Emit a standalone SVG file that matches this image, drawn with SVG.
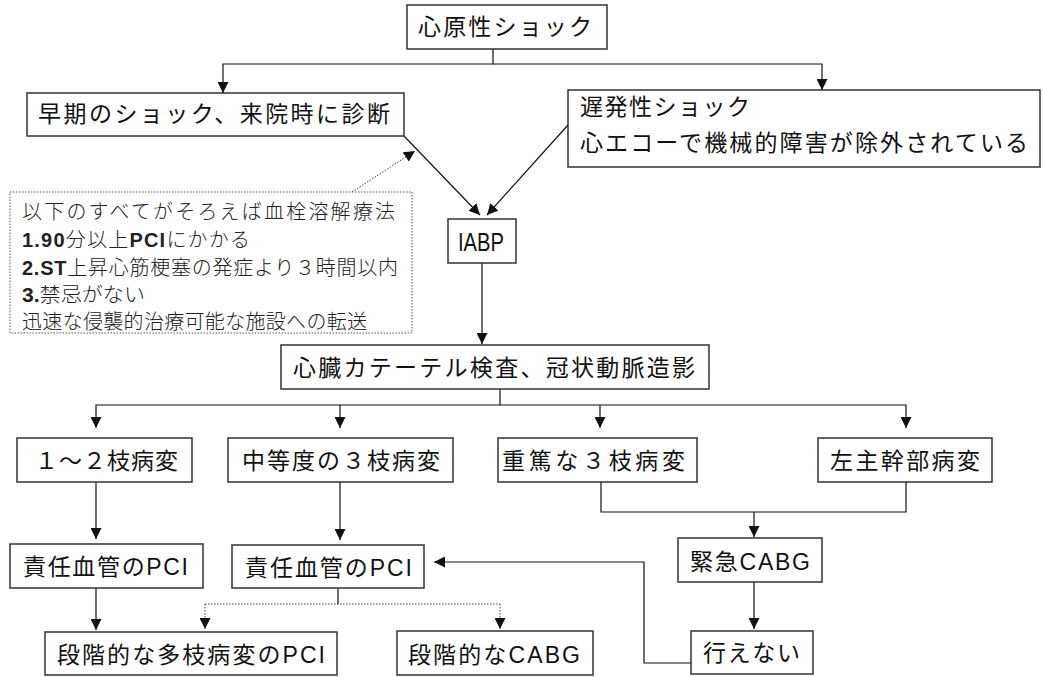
<svg xmlns="http://www.w3.org/2000/svg" width="1043" height="677" viewBox="0 0 1043 677">
<style>
.box{fill:#fff;stroke:#333;stroke-width:1.5}
.dbox{fill:#fff;stroke:#555;stroke-width:1;stroke-dasharray:1.5 1.5}
.t{font-family:"Liberation Sans","Noto Sans CJK JP",sans-serif;font-size:23px;fill:#111;dominant-baseline:central}
.s{font-family:"Liberation Sans","Noto Sans CJK JP",sans-serif;font-size:20px;fill:#222;dominant-baseline:central;font-weight:300}
.b{font-weight:bold}
.c{fill:none;stroke:#111;stroke-width:1.2}
.d{fill:none;stroke:#444;stroke-width:1;stroke-dasharray:1.5 1.5}
</style>
<defs>
<marker id="ar" viewBox="0 0 10 10" markerWidth="11" markerHeight="11" markerUnits="userSpaceOnUse" refX="10" refY="5" orient="auto"><path d="M0,0 L10,5 L0,10 z" fill="#111"/></marker>
</defs>
<rect width="1043" height="677" fill="#fff"/>
<g id="connectors">
<path class="c" d="M493,49 V64 H223 V93" marker-end="url(#ar)"/>
<path class="c" d="M493,64 H822 V90" marker-end="url(#ar)"/>
<path class="c" d="M404,136 L480,215" marker-end="url(#ar)"/>
<path class="c" d="M568,125 L487,215" marker-end="url(#ar)"/>
<path class="d" d="M352,192 L415,151" marker-end="url(#ar)"/>
<path class="c" d="M482,263 V344" marker-end="url(#ar)"/>
<path class="c" d="M500,389 V405 H96 V428" marker-end="url(#ar)"/>
<path class="c" d="M500,405 H906 V428" marker-end="url(#ar)"/>
<path class="c" d="M340,405 V428" marker-end="url(#ar)"/>
<path class="c" d="M600,405 V428" marker-end="url(#ar)"/>
<path class="c" d="M96,482 V539" marker-end="url(#ar)"/>
<path class="c" d="M340,482 V540" marker-end="url(#ar)"/>
<path class="c" d="M601,482 V512 H906 V482"/>
<path class="c" d="M754,512 V537" marker-end="url(#ar)"/>
<path class="c" d="M754,582 V629" marker-end="url(#ar)"/>
<path class="c" d="M691,663 H644 V562 H434" marker-end="url(#ar)"/>
<path class="c" d="M96,588 V630" marker-end="url(#ar)"/>
<path class="c" d="M338,588 V604"/>
<path class="d" d="M205,604 H500"/>
<path class="d" d="M205,604 V629" marker-end="url(#ar)"/>
<path class="d" d="M500,604 V629" marker-end="url(#ar)"/>
</g>
<g id="n_shock">
<rect class="box" x="407" y="5" width="200" height="44"/>
<text class="t" x="418" y="27" textLength="174" lengthAdjust="spacing">心原性ショック</text>
</g>
<g id="n_early">
<rect class="box" x="27" y="93" width="377" height="43"/>
<text class="t" x="38" y="114" textLength="352" lengthAdjust="spacing">早期のショック、来院時に診断</text>
</g>
<g id="n_late">
<rect class="box" x="568" y="90" width="472" height="77"/>
<text class="t" x="580" y="107" textLength="170" lengthAdjust="spacing">遅発性ショック</text>
<text class="t" x="580" y="143" textLength="448" lengthAdjust="spacing">心エコーで機械的障害が除外されている</text>
</g>
<g id="n_note">
<rect class="dbox" x="10" y="192" width="402" height="141"/>
<text class="s" x="22" y="212" textLength="373" lengthAdjust="spacing">以下のすべてがそろえば血栓溶解療法</text>
<text class="s" x="22" y="240" textLength="228" lengthAdjust="spacing"><tspan class="b">1.90</tspan>分以上<tspan class="b">PCI</tspan>にかかる</text>
<text class="s" x="22" y="268" textLength="376" lengthAdjust="spacing"><tspan class="b">2.ST</tspan>上昇心筋梗塞の発症より３時間以内</text>
<text class="s" x="22" y="295" textLength="123" lengthAdjust="spacingAndGlyphs"><tspan class="b">3.</tspan>禁忌がない</text>
<text class="s" x="22" y="322" textLength="345" lengthAdjust="spacing">迅速な侵襲的治療可能な施設への転送</text>
</g>
<g id="n_iabp">
<rect class="box" x="448" y="219" width="68" height="44"/>
<text class="t" x="458" y="242" style="font-size:26px" textLength="46" lengthAdjust="spacingAndGlyphs">IABP</text>
</g>
<g id="n_cath">
<rect class="box" x="281" y="345" width="428" height="44"/>
<text class="t" x="293" y="368" textLength="402" lengthAdjust="spacing">心臓カテーテル検査、冠状動脈造影</text>
</g>
<g id="n_v12">
<rect class="box" x="17" y="438" width="175" height="44"/>
<text class="t" x="35" y="461" textLength="143" lengthAdjust="spacing">１～２枝病変</text>
</g>
<g id="n_mod3">
<rect class="box" x="228" y="438" width="225" height="44"/>
<text class="t" x="242" y="461" textLength="198" lengthAdjust="spacing">中等度の３枝病変</text>
</g>
<g id="n_sev3">
<rect class="box" x="498" y="438" width="199" height="44"/>
<text class="t" x="502" y="461" textLength="183" lengthAdjust="spacing">重篤な３枝病変</text>
</g>
<g id="n_lmt">
<rect class="box" x="818" y="438" width="174" height="44"/>
<text class="t" x="830" y="461" textLength="150" lengthAdjust="spacing">左主幹部病変</text>
</g>
<g id="n_pci1">
<rect class="box" x="10" y="544" width="193" height="44"/>
<text class="t" x="23" y="567" textLength="165" lengthAdjust="spacing">責任血管のPCI</text>
</g>
<g id="n_pci2">
<rect class="box" x="232" y="545" width="192" height="43"/>
<text class="t" x="245" y="568" textLength="167" lengthAdjust="spacing">責任血管のPCI</text>
</g>
<g id="n_cabg">
<rect class="box" x="678" y="538" width="144" height="44"/>
<text class="t" x="690" y="562" textLength="120" lengthAdjust="spacing">緊急CABG</text>
</g>
<g id="n_cannot">
<rect class="box" x="691" y="631" width="122" height="43"/>
<text class="t" x="703" y="653" textLength="97" lengthAdjust="spacing">行えない</text>
</g>
<g id="n_stagepci">
<rect class="box" x="45" y="632" width="292" height="43"/>
<text class="t" x="57" y="655" textLength="268" lengthAdjust="spacing">段階的な多枝病変のPCI</text>
</g>
<g id="n_stagecabg">
<rect class="box" x="397" y="631" width="196" height="44"/>
<text class="t" x="408" y="655" textLength="172" lengthAdjust="spacing">段階的なCABG</text>
</g>
</svg>
